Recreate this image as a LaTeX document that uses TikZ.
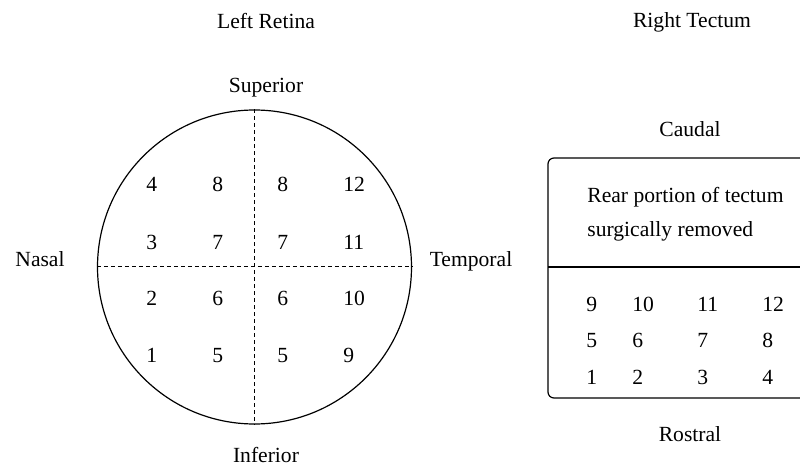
\documentclass[tikz,border=0pt]{standalone}
\usepackage{fontspec}
\setmainfont{Liberation Serif}
\begin{document}
\begin{tikzpicture}[x=0.5pt,y=-0.5pt,
  every node/.style={font=\fontsize{10.8}{13}\selectfont, inner sep=0pt},
  label/.style={anchor=base},
  num/.style={anchor=base west},
  outline/.style={draw, line width=0.6pt},
  divider/.style={draw, line width=0.5pt, dash pattern=on 2pt off 1.5pt}]
\useasboundingbox (0,0) rectangle (800,465);
\clip (0,0) rectangle (800,465);

% ---- left retina ----
\node[label] (lrtitle) at (266,29) {Left Retina};
\node[label] (sup) at (266,93) {Superior};
\node[label] (inf) at (266,463) {Inferior};
\node[label] (nas) at (40,267) {Nasal};
\node[label] (tmp) at (471,267) {Temporal};

\node[outline, circle, minimum size=314*0.5pt] (retina) at (254.5,267) {};
\draw[divider] (retina.north) -- (retina.south);
\draw[divider] (retina.west) -- (retina.east);

% retina position numbers
\node[num] (r11) at (146,192) {4};
\node[num] (r12) at (212,192) {8};
\node[num] (r13) at (277,192) {8};
\node[num] (r14) at (343,192) {12};
\node[num] (r21) at (146,250) {3};
\node[num] (r22) at (212,250) {7};
\node[num] (r23) at (277,250) {7};
\node[num] (r24) at (343,250) {11};
\node[num] (r31) at (146,306) {2};
\node[num] (r32) at (212,306) {6};
\node[num] (r33) at (277,306) {6};
\node[num] (r34) at (343,306) {10};
\node[num] (r41) at (146,363) {1};
\node[num] (r42) at (212,363) {5};
\node[num] (r43) at (277,363) {5};
\node[num] (r44) at (343,363) {9};

% ---- right tectum ----
\node[label] (rttitle) at (692,28) {Right Tectum};
\node[label] (cau) at (690,137) {Caudal};
\node[label] (ros) at (690,442) {Rostral};

\draw[outline, rounded corners=6*0.5pt] (548,158) rectangle (840,398);
\coordinate (divl) at (548,267);
\coordinate (divr) at (840,267);
\draw[line width=0.6pt] (divl) -- (divr);

\node[num] (rear1) at (587,203) {Rear portion of tectum};
\node[num] (rear2) at (587,237) {surgically removed};

\node[num] (t11) at (586,312) {9};
\node[num] (t12) at (632,312) {10};
\node[num] (t13) at (697,312) {11};
\node[num] (t14) at (762,312) {12};
\node[num] (t21) at (586,348) {5};
\node[num] (t22) at (632,348) {6};
\node[num] (t23) at (697,348) {7};
\node[num] (t24) at (762,348) {8};
\node[num] (t31) at (586,385) {1};
\node[num] (t32) at (632,385) {2};
\node[num] (t33) at (697,385) {3};
\node[num] (t34) at (762,385) {4};
\end{tikzpicture}
\end{document}
